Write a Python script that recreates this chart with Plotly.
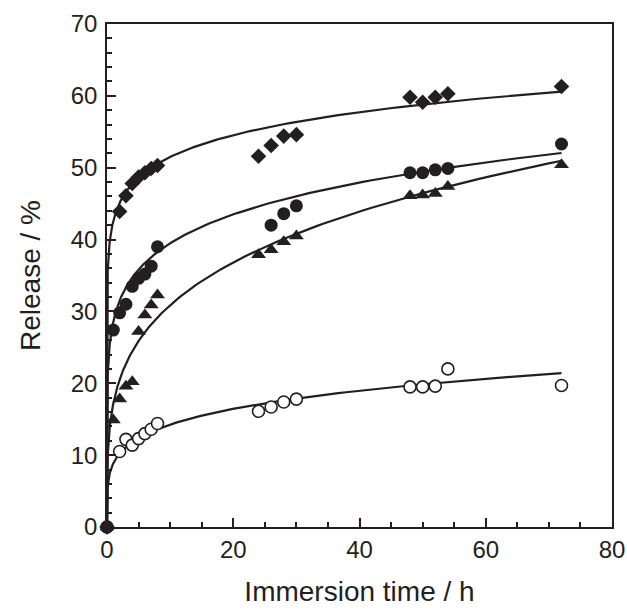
import numpy as np
import plotly.graph_objects as go

# --- data ---
t_diamond = [0, 2, 3, 4, 5, 6, 7, 8, 24, 26, 28, 30, 48, 50, 52, 54, 72]
v_diamond = [0, 43.9, 46.1, 47.8, 48.7, 49.3, 49.9, 50.3, 51.6, 53.1, 54.4, 54.6, 59.8, 59.1, 59.8, 60.3, 61.3]

t_circle = [0, 1, 2, 3, 4, 5, 6, 7, 8, 26, 28, 30, 48, 50, 52, 54, 72]
v_circle = [0, 27.4, 29.8, 31.0, 33.5, 34.6, 35.2, 36.3, 39.0, 42.0, 43.6, 44.7, 49.3, 49.3, 49.7, 49.9, 53.3]

t_triangle = [0, 1, 2, 3, 4, 5, 6, 7, 8, 24, 26, 28, 30, 48, 50, 52, 54, 72]
v_triangle = [0, 14.9, 17.8, 19.6, 20.2, 27.2, 29.5, 30.9, 32.3, 37.9, 38.6, 39.7, 40.5, 46.1, 46.2, 46.4, 47.4, 50.4]

t_open = [0, 2, 3, 4, 5, 6, 7, 8, 24, 26, 28, 30, 48, 50, 52, 54, 72]
v_open = [0, 10.5, 12.2, 11.4, 12.3, 13.0, 13.6, 14.4, 16.1, 16.7, 17.4, 17.8, 19.5, 19.5, 19.6, 22.0, 19.7]

# fitted power-law (Korsmeyer-Peppas) parameters: v = K * t^n
fit_K = [42.6, 28.6, 17.2, 8.87]
fit_n = [0.0824, 0.140, 0.254, 0.206]

x_ticks = [0, 20, 40, 60, 80]
y_ticks = [0, 10, 20, 30, 40, 50, 60, 70]

INK = "#231f20"
FONT = "Liberation Sans, Arial"
fig = go.Figure()

t_fit = np.concatenate([[0], np.logspace(-4, np.log10(72), 400)])
for K, n in zip(fit_K, fit_n):
    fig.add_trace(go.Scatter(x=t_fit, y=K * t_fit ** n, mode="lines",
                             line=dict(color=INK, width=2.2), showlegend=False,
                             hoverinfo="skip"))

def markers(x, y, symbol, size, fill, lw):
    fig.add_trace(go.Scatter(
        x=x, y=y, mode="markers", cliponaxis=False, showlegend=False,
        marker=dict(symbol=symbol, size=size, color=fill,
                    line=dict(color=INK, width=lw))))

markers(t_open, v_open, "circle", 12, "white", 1.6)
markers(t_diamond, v_diamond, "diamond", 12, INK, 0)
markers(t_triangle, v_triangle, "triangle-up", 13, INK, 0)
markers(t_circle, v_circle, "circle", 13, INK, 0)

axis_common = dict(showline=True, linecolor=INK, linewidth=1.5, mirror=True,
                   ticks="inside", tickcolor=INK, tickwidth=1.5,
                   showgrid=False, zeroline=False, automargin=False,
                   tickfont=dict(family=FONT, size=24, color=INK))

fig.update_xaxes(range=[0, 80], tickvals=x_ticks, ticklen=9,
                 minor=dict(dtick=5, ticks="inside", ticklen=5, tickcolor=INK, tickwidth=1.5),
                 title=dict(text="Immersion time / h", standoff=20,
                            font=dict(family=FONT, size=28, color=INK)),
                 **axis_common)
fig.update_yaxes(range=[0, 70], tickvals=y_ticks, ticklen=9, ticklabelstandoff=3,
                 minor=dict(dtick=2, ticks="inside", ticklen=5, tickcolor=INK, tickwidth=1.5),
                 title=dict(text="Release / %", standoff=22,
                            font=dict(family=FONT, size=28, color=INK)),
                 **axis_common)

fig.update_layout(width=627, height=610, margin=dict(l=107, r=15, t=24, b=83),
                  plot_bgcolor="white", paper_bgcolor="white")

fig.write_html("out.html")
